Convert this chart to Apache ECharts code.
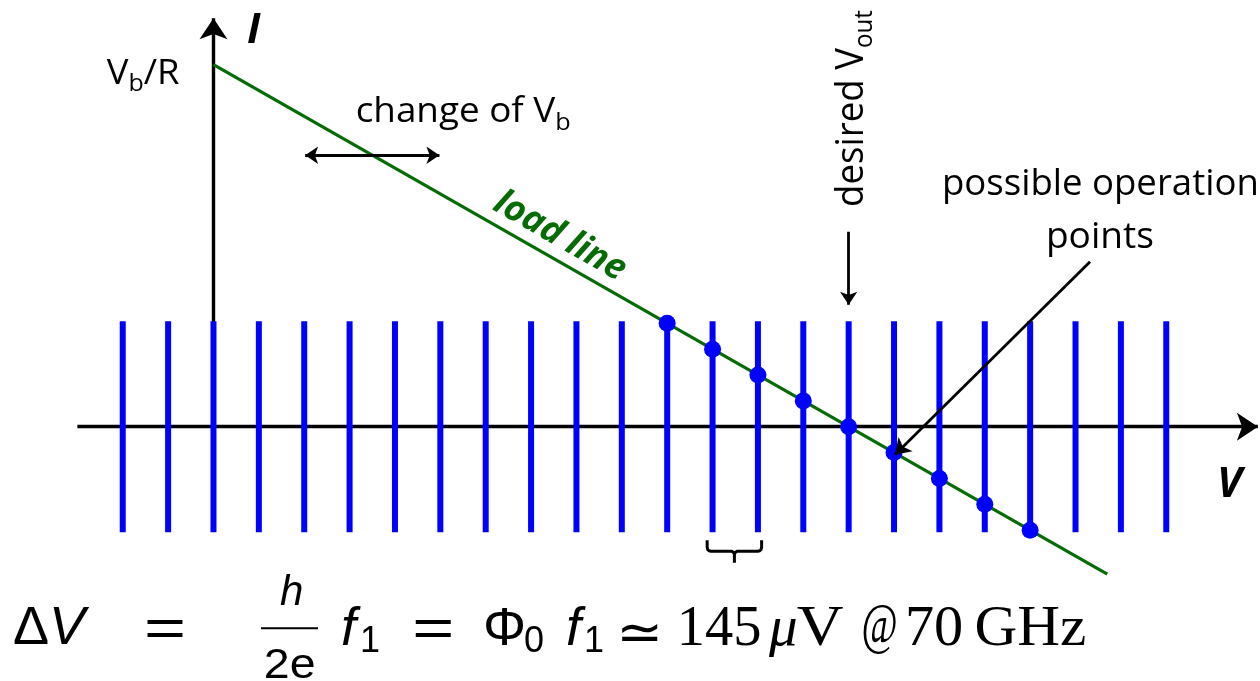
<!DOCTYPE html>
<html>
<head>
<meta charset="utf-8">
<script src="https://cdn.jsdelivr.net/npm/echarts@6/dist/echarts.min.js"></script>
<style>
  html, body { margin: 0; padding: 0; background: #fff; }
  #chart { width: 1260px; height: 681px; }
</style>
</head>
<body>
<div id="chart"></div>
<script>
// Voltage in units of the step spacing ΔV, current in units of the load-line drop per step.
const stepVoltages = [-2, -1, 0, 1, 2, 3, 4, 5, 6, 7, 8, 9, 10, 11, 12, 13, 14, 15, 16, 17, 18, 19, 20, 21];
const stepCurrentRange = [-4.08, 4.08];
const loadLineEnds = [[0, 14], [19.7, -5.7]];          // starts at V_b/R on the I axis
const operationPoints = [[10, 4], [11, 3], [12, 2], [13, 1], [14, 0], [15, -1], [16, -2], [17, -3], [18, -4]];
const desiredVout = 14;
const spacingPair = [11, 12];

const GREEN = '#056b05';
const BLUE = '#0000ff';
const SANS = "'Open Sans'";

// --- text helpers: lay out runs on a common baseline, origin = ink start on the baseline
const mctx = document.createElement('canvas').getContext('2d');
function measure(text, font) {
  mctx.font = font;
  mctx.textBaseline = 'middle';
  const m = mctx.measureText(text);
  const h = mctx.measureText('H');
  return { adv: m.width, left: m.actualBoundingBoxLeft, right: m.actualBoundingBoxRight,
           base: h.actualBoundingBoxDescent };
}
function textRun(spec) {
  const fill = spec.color || '#000';
  let pen = 0, firstLeft = 0, lastRight = 0;
  const children = [];
  spec.runs.forEach((r, i) => {
    const m = measure(r.text, r.font);
    const x = pen + (r.dx || 0);
    if (i === 0) firstLeft = m.left;
    lastRight = x + m.right;
    children.push({
      type: 'text', x: x, y: (r.dy || 0) - m.base, silent: true,
      style: { text: r.text, font: r.font, fill: fill,
               align: 'left', verticalAlign: 'middle', textAlign: 'left', textVerticalAlign: 'middle' }
    });
    pen = x + m.adv;
  });
  children.forEach(c => { c.x += firstLeft; });
  const inkWidth = lastRight + firstLeft;
  const scaleX = spec.width ? spec.width / inkWidth : 1;
  return { type: 'group', x: spec.x, y: spec.y, rotation: spec.rotation || 0,
           scaleX: scaleX, scaleY: 1, children: children };
}
function piece(text, font, x, y, width) {
  return textRun({ x: x, y: y, width: width, runs: [{ text: text, font: font }] });
}

const fSans = s => s + "px 'Liberation Sans'";
const fSansIt = s => 'italic ' + s + "px 'Liberation Sans'";
const fSerif = s => s + "px 'Liberation Serif'";
const fSerifIt = s => 'italic ' + s + "px 'Liberation Serif'";

const labels = [
  // axis names
  textRun({ x: 248, y: 43, runs: [{ text: 'I', font: 'italic bold 42px ' + SANS }] }),
  textRun({ x: 1220, y: 497, runs: [{ text: 'V', font: 'italic bold 42px ' + SANS }] }),
  // V_b/R at the top of the I axis
  textRun({ x: 106.7, y: 84, width: 73.3, runs: [
    { text: 'V', font: '35px ' + SANS },
    { text: 'b', font: '24px ' + SANS, dy: 7 },
    { text: '/R', font: '35px ' + SANS }
  ] }),
  textRun({ x: 356.7, y: 122, width: 213.3, runs: [
    { text: 'change of V', font: '35px ' + SANS },
    { text: 'b', font: '24px ' + SANS, dy: 8 }
  ] }),
  textRun({ x: 945, y: 195, width: 311.7, runs: [{ text: 'possible operation', font: '36px ' + SANS }] }),
  textRun({ x: 1049, y: 248.3, width: 103.7, runs: [{ text: 'points', font: '36px ' + SANS }] }),
  textRun({ x: 863.3, y: 205, width: 195, rotation: Math.PI / 2, runs: [
    { text: 'desired V', font: '38px ' + SANS },
    { text: 'out', font: '25px ' + SANS, dy: 8.4 }
  ] }),
  textRun({ x: 491.5, y: 209, width: 146, rotation: -Math.atan(0.5704), color: GREEN,
            runs: [{ text: 'load line', font: 'italic bold 36px ' + SANS }] }),

  // ΔV = h/2e f1 = Φ0 f1 ≃ 145 μV @ 70 GHz
  piece('\u0394', fSans(54), 14, 644),
  piece('V', fSansIt(54), 53, 644),
  piece('=', fSans(54), 146.7, 646, 36),
  piece('h', fSansIt(42), 280, 605),
  { type: 'rect', shape: { x: 261, y: 627.3, width: 57, height: 2 }, style: { fill: '#000' }, silent: true },
  piece('2e', fSans(42), 266, 678, 48),
  piece('f', fSansIt(54), 342, 645),
  piece('1', fSans(36), 362, 652),
  piece('=', fSans(54), 415, 646, 36),
  piece('\u03A6', fSans(54), 486, 645),
  piece('0', fSans(36), 525, 652),
  piece('f', fSansIt(54), 567, 645),
  piece('1', fSans(36), 586, 652),
  piece('\u2243', "52px 'DejaVu Sans'", 621.7, 650, 36.6),
  piece('145', fSerif(57), 681.7, 645, 78.3),
  piece('\u03BC', fSerifIt(57), 768, 645),
  piece('V', fSerif(57), 796.7, 645, 46.6),
  piece('@', fSerif(56), 863, 643, 33),
  piece('70', fSerif(57), 908, 645, 53.7),
  piece('GHz', fSerif(57), 976.7, 645, 108.3)
];

const chart = echarts.init(document.getElementById('chart'), null, { renderer: 'canvas' });

chart.setOption({
  animation: false,
  backgroundColor: '#ffffff',
  grid: { left: 32, right: 3, top: 13, bottom: 47.4 },
  xAxis: { type: 'value', min: -4, max: 23, show: false },
  yAxis: { type: 'value', min: -8, max: 16, show: false },
  series: [
    // V and I axes with arrow heads
    {
      type: 'lines', coordinateSystem: 'cartesian2d', z: 1, silent: true,
      symbol: ['none', 'arrow'], symbolSize: 21,
      lineStyle: { color: '#000', width: 3.4, opacity: 1 },
      data: [{ coords: [[-3, 0], [23.02, 0]] }, { coords: [[0, 0], [0, 15.8]] }]
    },
    // voltage steps
    {
      type: 'custom', z: 2, silent: true,
      data: stepVoltages.map(v => [v, stepCurrentRange[0], stepCurrentRange[1]]),
      encode: { x: 0, y: [1, 2] },
      renderItem: function (params, api) {
        const a = api.coord([api.value(0), api.value(1)]);
        const b = api.coord([api.value(0), api.value(2)]);
        return { type: 'line', shape: { x1: a[0], y1: a[1], x2: b[0], y2: b[1] },
                 style: { stroke: BLUE, lineWidth: 6 } };
      }
    },
    // load line
    {
      type: 'line', z: 3, silent: true, showSymbol: false, symbol: 'none',
      data: loadLineEnds,
      lineStyle: { color: GREEN, width: 3.2 }
    },
    // intersections with the steps
    {
      type: 'scatter', z: 4, silent: true, symbol: 'circle', symbolSize: 17,
      itemStyle: { color: BLUE, opacity: 1 },
      data: operationPoints
    },
    // shift of V_b (double arrow across the load line)
    {
      type: 'lines', coordinateSystem: 'cartesian2d', z: 5, silent: true,
      symbol: ['arrow', 'arrow'], symbolSize: 13,
      lineStyle: { color: '#000', width: 2.8, opacity: 1 },
      data: [{ coords: [[2.02, 10.5], [4.98, 10.5]] }]
    },
    // desired V_out marker and pointer to the operation points
    {
      type: 'lines', coordinateSystem: 'cartesian2d', z: 5, silent: true,
      symbol: ['none', 'arrow'], symbolSize: 13,
      lineStyle: { color: '#000', width: 2.8, opacity: 1 },
      data: [{ coords: [[desiredVout, 7.54], [desiredVout, 4.72]] }]
    },
    {
      type: 'lines', coordinateSystem: 'cartesian2d', z: 6, silent: true,
      symbol: ['none', 'arrow'], symbolSize: 15,
      lineStyle: { color: '#000', width: 2.8, opacity: 1 },
      data: [{ coords: [[19.32, 6.38], [15.02, -1.08]] }]
    },
    // brace marking one step spacing ΔV
    {
      type: 'custom', z: 5, silent: true,
      data: [spacingPair],
      encode: { x: [0, 1] },
      renderItem: function (params, api) {
        const p1 = api.coord([api.value(0), stepCurrentRange[0]]);
        const p2 = api.coord([api.value(1), stepCurrentRange[0]]);
        const xl = p1[0] - 5.4, xr = p2[0] + 3.7, xc = (xl + xr) / 2;
        const top = p1[1] + 8, mid = p1[1] + 19, bot = p1[1] + 30.5;
        const st = { stroke: '#000', lineWidth: 3, fill: null, lineJoin: 'round', lineCap: 'butt' };
        return {
          type: 'group',
          children: [
            { type: 'polyline', shape: { points: [[xl, top], [xl, mid - 4], [xl + 0.6, mid - 1.6], [xl + 1.8, mid - 0.5], [xl + 4, mid],
                                                 [xc - 3, mid], [xc - 1.2, mid + 0.8], [xc, mid + 3], [xc, bot]] }, style: st },
            { type: 'polyline', shape: { points: [[xr, top], [xr, mid - 4], [xr - 0.6, mid - 1.6], [xr - 1.8, mid - 0.5], [xr - 4, mid],
                                                 [xc + 3, mid], [xc + 1.2, mid + 0.8], [xc, mid + 3]] }, style: st }
          ]
        };
      }
    }
  ],
  graphic: { elements: labels }
});
</script>
</body>
</html>
